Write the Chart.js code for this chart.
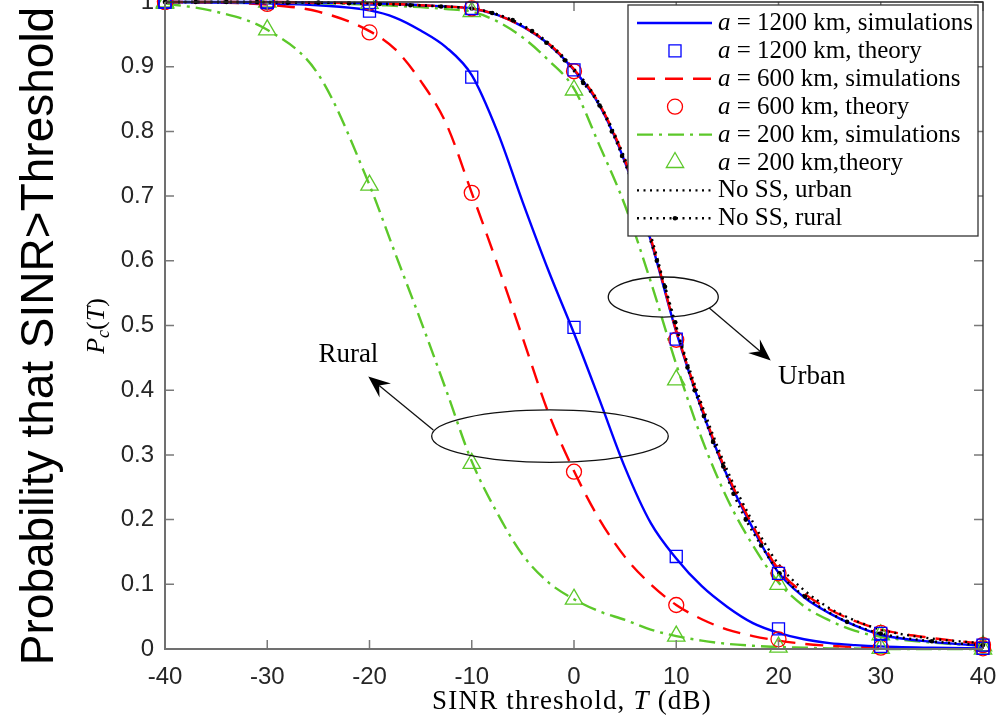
<!DOCTYPE html>
<html lang="en">
<head>
<meta charset="UTF-8">
<title>Coverage probability vs SINR threshold</title>
<script src="https://cdn.jsdelivr.net/npm/chart.js"></script>
<style>
  body { margin: 0; background: #ffffff; }
  #wrap { width: 996px; height: 724px; }
</style>
</head>
<body>
<div id="wrap"><canvas id="pcChart" width="996" height="724"></canvas></div>
<script>
// SINR thresholds (dB) of the simulated curves
const thresholds = [-40, -35, -30, -25, -20, -17.5, -15, -12.5, -10, -7.5, -5, -2.5, 0, 2.5, 5, 7.5, 10, 12.5, 15, 17.5, 20, 22.5, 25, 27.5, 30, 35, 40];

// simulated coverage probability, rural
const sim1200Rural = [1.000, 0.999, 0.998, 0.995, 0.987, 0.976, 0.956, 0.930, 0.887, 0.800, 0.690, 0.585, 0.488, 0.385, 0.280, 0.195, 0.140, 0.097, 0.065, 0.040, 0.025, 0.015, 0.009, 0.006, 0.004, 0.002, 0.001];
const sim600Rural  = [1.000, 0.999, 0.996, 0.985, 0.955, 0.927, 0.878, 0.812, 0.705, 0.595, 0.480, 0.365, 0.275, 0.200, 0.142, 0.100, 0.068, 0.046, 0.030, 0.020, 0.013, 0.008, 0.005, 0.003, 0.002, 0.001, 0.000];
const sim200Rural  = [0.998, 0.985, 0.957, 0.888, 0.717, 0.612, 0.508, 0.400, 0.290, 0.210, 0.145, 0.103, 0.077, 0.058, 0.045, 0.030, 0.020, 0.013, 0.008, 0.005, 0.003, 0.002, 0.001, 0.001, 0.000, 0.000, 0.000];

// simulated coverage probability, urban
const sim1200Urban = [1.000, 1.000, 1.000, 0.999, 0.998, 0.997, 0.995, 0.993, 0.990, 0.980, 0.962, 0.935, 0.895, 0.840, 0.752, 0.632, 0.490, 0.370, 0.267, 0.186, 0.118, 0.080, 0.055, 0.036, 0.022, 0.011, 0.005];
const sim600Urban  = [1.000, 1.000, 1.000, 0.999, 0.998, 0.997, 0.995, 0.993, 0.990, 0.980, 0.962, 0.936, 0.896, 0.842, 0.755, 0.635, 0.492, 0.373, 0.270, 0.190, 0.123, 0.086, 0.061, 0.043, 0.030, 0.017, 0.008];
const sim200Urban  = [1.000, 1.000, 0.999, 0.998, 0.996, 0.994, 0.992, 0.989, 0.985, 0.970, 0.945, 0.910, 0.866, 0.778, 0.685, 0.568, 0.440, 0.325, 0.232, 0.160, 0.103, 0.066, 0.044, 0.028, 0.019, 0.010, 0.005];

// no spectrum sharing baselines
const noSSUrban = [1.000, 1.000, 1.000, 0.999, 0.998, 0.997, 0.995, 0.993, 0.990, 0.981, 0.963, 0.937, 0.897, 0.843, 0.757, 0.640, 0.497, 0.378, 0.276, 0.196, 0.131, 0.091, 0.063, 0.044, 0.030, 0.016, 0.009];
const noSSRuralX = [-40, -37, -34, -31, -28, -25, -22, -19, -16, -13, -10, -8, -6, -4.1, -2.7, -0.9, 0.9, 2.5, 3.7, 4.7, 5.8, 6.9, 8.1, 8.9, 9.9, 10.5, 11.1, 11.8, 12.7, 13.6, 14.6, 15.6, 16.8, 18.3, 20.1, 22.6, 26.7, 30, 35, 40];
const noSSRural  = [1.000, 1.000, 1.000, 1.000, 0.999, 0.999, 0.998, 0.997, 0.995, 0.993, 0.990, 0.983, 0.972, 0.955, 0.937, 0.910, 0.875, 0.840, 0.800, 0.762, 0.715, 0.660, 0.600, 0.560, 0.505, 0.470, 0.435, 0.400, 0.360, 0.320, 0.282, 0.240, 0.200, 0.160, 0.117, 0.081, 0.042, 0.024, 0.012, 0.006];

// analytical results
const theoryX = [-40, -30, -20, -10, 0, 10, 20, 30, 40];
const th1200Rural = [1.000, 0.999, 0.986, 0.884, 0.497, 0.143, 0.031, 0.004, 0.001];
const th1200Urban = [1.000, 1.000, 0.999, 0.990, 0.895, 0.479, 0.117, 0.024, 0.006];
const th600Rural  = [1.000, 0.997, 0.953, 0.705, 0.274, 0.068, 0.015, 0.002, 0.001];
const th600Urban  = [1.000, 1.000, 0.999, 0.990, 0.893, 0.478, 0.117, 0.025, 0.006];
const th200Rural  = [0.998, 0.957, 0.717, 0.287, 0.077, 0.020, 0.003, 0.001, 0.000];
const th200Urban  = [1.000, 1.000, 0.998, 0.985, 0.864, 0.416, 0.100, 0.022, 0.005];

// axis ticks
const xTicks = [-40, -30, -20, -10, 0, 10, 20, 30, 40];
const xTickLabels = ['-40', '-30', '-20', '-10', '0', '10', '20', '30', '40'];
const yTicks = [0, 0.1, 0.2, 0.3, 0.4, 0.5, 0.6, 0.7, 0.8, 0.9, 1];
const yTickLabels = ['0', '0.1', '0.2', '0.3', '0.4', '0.5', '0.6', '0.7', '0.8', '0.9', '1'];

// callouts, in data units
const ellipses = [
  { x: 8.73, y: 0.544, rx: 5.38, ry: 0.031 },
  { x: -2.35, y: 0.329, rx: 11.57, ry: 0.0405 }
];
const arrows = [
  { x0: 13.23, y0: 0.527, x1: 19.24, y1: 0.446 },
  { x0: -13.76, y0: 0.3385, x1: -20.12, y1: 0.421 }
];
const notes = [
  { text: 'Urban', x: 19.95, y: 0.41 },
  { text: 'Rural', x: -25.0, y: 0.444 }
];

const serif = "'Liberation Serif', 'Times New Roman', serif";
const sans = "'Liberation Sans', Arial, sans-serif";
const BLUE = '#0000ff', RED = '#ff0000', GREEN = '#5cc82a', BLACK = '#000000';
const DASH = [18, 10], DASHDOT = [16, 6, 3, 6], DOT = [2, 4.5];

function pts(xs, ys) {
  return xs.map((x, i) => ({ x: x, y: ys[i] }));
}

function simLine(label, xs, ys, color, dash, order) {
  return {
    label: label, data: pts(xs, ys), borderColor: color, borderWidth: 2.4, borderDash: dash,
    pointRadius: 0, fill: false, cubicInterpolationMode: 'monotone', clip: false, order: order
  };
}

function theory(label, rural, urban, color, style, radius) {
  return {
    label: label, data: pts(theoryX, rural).concat(pts(theoryX, urban)), showLine: false,
    borderColor: color, backgroundColor: 'rgba(0,0,0,0)', pointStyle: style, pointRadius: radius,
    pointBorderWidth: 1.3, pointBorderColor: color, pointBackgroundColor: 'rgba(0,0,0,0)',
    clip: false, order: 0
  };
}

const datasets = [
  simLine('a = 1200 km, simulations', thresholds, sim1200Rural, BLUE, [], 5),   // 0
  theory('a = 1200 km, theory', th1200Rural, th1200Urban, BLUE, 'rect', 8.5),     // 1
  simLine('a = 600 km, simulations', thresholds, sim600Rural, RED, DASH, 5),      // 2
  theory('a = 600 km, theory', th600Rural, th600Urban, RED, 'circle', 7.5),       // 3
  simLine('a = 200 km, simulations', thresholds, sim200Rural, GREEN, DASHDOT, 5), // 4
  theory('a = 200 km,theory', th200Rural, th200Urban, GREEN, 'triangle', 10),    // 5
  simLine('No SS, urban', thresholds, noSSUrban, BLACK, DOT, 1),                  // 6
  Object.assign(simLine('No SS, rural', noSSRuralX, noSSRural, BLACK, DOT, 1), {  // 7
    pointRadius: 2.3, pointStyle: 'circle', pointBackgroundColor: BLACK, pointBorderWidth: 0
  }),
  simLine('urban 1200', thresholds, sim1200Urban, BLUE, [], 3),
  simLine('urban 600', thresholds, sim600Urban, RED, DASH, 2),
  simLine('urban 200', thresholds, sim200Urban, GREEN, DASHDOT, 4)
];

// legend rows: italic pieces flagged with 1
const legendRows = [
  { ds: 0, parts: [['a', 1], [' = 1200 km, simulations', 0]] },
  { ds: 1, parts: [['a', 1], [' = 1200 km, theory', 0]] },
  { ds: 2, parts: [['a', 1], [' = 600 km, simulations', 0]] },
  { ds: 3, parts: [['a', 1], [' = 600 km, theory', 0]] },
  { ds: 4, parts: [['a', 1], [' = 200 km, simulations', 0]] },
  { ds: 5, parts: [['a', 1], [' = 200 km,theory', 0]] },
  { ds: 6, parts: [['No SS, urban', 0]] },
  { ds: 7, parts: [['No SS, rural', 0]] }
];

function drawRich(ctx, parts, x, y, size) {
  let cx = x;
  parts.forEach(p => {
    ctx.font = (p[1] ? 'italic ' : '') + size + 'px ' + serif;
    ctx.fillText(p[0], cx, y);
    cx += ctx.measureText(p[0]).width;
  });
  return cx;
}

function marker(ctx, style, x, y, r, color, lw) {
  ctx.save();
  ctx.strokeStyle = color;
  ctx.lineWidth = lw;
  ctx.setLineDash([]);
  ctx.beginPath();
  if (style === 'rect') {
    const s = r * Math.SQRT1_2;
    ctx.rect(x - s, y - s, 2 * s, 2 * s);
  } else if (style === 'circle') {
    ctx.arc(x, y, r, 0, Math.PI * 2);
  } else {
    ctx.moveTo(x, y - r);
    ctx.lineTo(x + r * 0.866, y + r * 0.5);
    ctx.lineTo(x - r * 0.866, y + r * 0.5);
    ctx.closePath();
  }
  ctx.stroke();
  ctx.restore();
}

// MATLAB-like box with inward ticks on all four sides
const boxAxes = {
  id: 'boxAxes',
  afterDatasetsDraw(chart) {
    const { ctx, chartArea: a, scales } = chart;
    const t = 9;
    ctx.save();
    ctx.strokeStyle = '#7a7a7a';
    ctx.lineWidth = 1.5;
    ctx.beginPath();
    xTicks.forEach(v => {
      const px = scales.x.getPixelForValue(v);
      ctx.moveTo(px, a.bottom); ctx.lineTo(px, a.bottom - t);
      ctx.moveTo(px, a.top); ctx.lineTo(px, a.top + t);
    });
    yTicks.forEach(v => {
      const py = scales.y.getPixelForValue(v);
      ctx.moveTo(a.left, py); ctx.lineTo(a.left + t, py);
      ctx.moveTo(a.right, py); ctx.lineTo(a.right - t, py);
    });
    ctx.stroke();
    ctx.strokeStyle = '#2a2a2a';
    ctx.lineWidth = 1.3;
    ctx.beginPath();
    ctx.moveTo(a.left, a.top); ctx.lineTo(a.right, a.top); ctx.lineTo(a.right, a.bottom);
    ctx.stroke();
    ctx.strokeStyle = '#707070';
    ctx.lineWidth = 2;
    ctx.beginPath();
    ctx.moveTo(a.left, a.top); ctx.lineTo(a.left, a.bottom); ctx.lineTo(a.right, a.bottom);
    ctx.stroke();
    ctx.restore();
  }
};

// ellipses, arrows and their captions
const callouts = {
  id: 'callouts',
  afterDatasetsDraw(chart) {
    const { ctx, scales } = chart;
    const X = v => scales.x.getPixelForValue(v);
    const Y = v => scales.y.getPixelForValue(v);
    ctx.save();
    ctx.strokeStyle = '#111';
    ctx.fillStyle = '#000';
    ctx.lineWidth = 1.3;
    ctx.setLineDash([]);
    ellipses.forEach(e => {
      const rx = X(e.x + e.rx) - X(e.x);
      const ry = Y(e.y) - Y(e.y + e.ry);
      ctx.beginPath();
      ctx.ellipse(X(e.x), Y(e.y), rx, ry, 0, 0, Math.PI * 2);
      ctx.stroke();
    });
    arrows.forEach(ar => {
      const x0 = X(ar.x0), y0 = Y(ar.y0), x1 = X(ar.x1), y1 = Y(ar.y1);
      const len = Math.hypot(x1 - x0, y1 - y0);
      const ux = (x1 - x0) / len, uy = (y1 - y0) / len;
      const nx = -uy, ny = ux;
      const L = 22, W = 9, N = 8;
      ctx.beginPath();
      ctx.moveTo(x0, y0);
      ctx.lineTo(x1 - ux * (L - N), y1 - uy * (L - N));
      ctx.stroke();
      ctx.beginPath();
      ctx.moveTo(x1, y1);
      ctx.lineTo(x1 - ux * L + nx * W, y1 - uy * L + ny * W);
      ctx.lineTo(x1 - ux * (L - N), y1 - uy * (L - N));
      ctx.lineTo(x1 - ux * L - nx * W, y1 - uy * L - ny * W);
      ctx.closePath();
      ctx.fill();
    });
    ctx.font = '27px ' + serif;
    ctx.textBaseline = 'alphabetic';
    notes.forEach(n => ctx.fillText(n.text, X(n.x), Y(n.y)));
    ctx.restore();
  }
};

// boxed legend in the upper right of the plot
const boxLegend = {
  id: 'boxLegend',
  afterDraw(chart) {
    const { ctx, chartArea: a } = chart;
    const w = 350, h = 231, x0 = a.right - 355, y0 = a.top + 3;
    ctx.save();
    ctx.fillStyle = '#ffffff';
    ctx.fillRect(x0, y0, w, h);
    ctx.strokeStyle = '#333';
    ctx.lineWidth = 1.3;
    ctx.strokeRect(x0, y0, w, h);
    legendRows.forEach((row, i) => {
      const ds = chart.data.datasets[row.ds];
      const y = y0 + 18 + i * 27.9;
      if (ds.showLine === false) {
        marker(ctx, ds.pointStyle, x0 + 47, y, ds.pointRadius, ds.borderColor, ds.pointBorderWidth);
      } else {
        ctx.strokeStyle = ds.borderColor;
        ctx.lineWidth = ds.borderWidth;
        ctx.setLineDash(ds.borderDash);
        ctx.beginPath();
        ctx.moveTo(x0 + 9, y);
        ctx.lineTo(x0 + 84, y);
        ctx.stroke();
        ctx.setLineDash([]);
        if (ds.pointRadius > 0) {
          ctx.fillStyle = ds.pointBackgroundColor;
          ctx.beginPath();
          ctx.arc(x0 + 47, y, ds.pointRadius, 0, Math.PI * 2);
          ctx.fill();
        }
      }
      ctx.fillStyle = '#000';
      ctx.textBaseline = 'alphabetic';
      drawRich(ctx, row.parts, x0 + 90, y + 7, 25);
    });
    ctx.restore();
  }
};

// axis titles
const titles = {
  id: 'titles',
  afterDraw(chart) {
    const { ctx, chartArea: a } = chart;
    ctx.save();
    ctx.fillStyle = '#000';
    ctx.textBaseline = 'alphabetic';

    // outer y title
    ctx.save();
    ctx.translate(53, 336);
    ctx.rotate(-Math.PI / 2);
    ctx.font = '46px ' + sans;
    ctx.textAlign = 'center';
    ctx.fillText('Probability that SINR>Threshold', 0, 0);
    ctx.restore();

    // inner y title P_c(T)
    ctx.save();
    ctx.translate(104, 326);
    ctx.rotate(-Math.PI / 2);
    const parts = [['P', 1, 26, 0], ['c', 1, 18, 5], ['(', 0, 26, 0], ['T', 1, 26, 0], [')', 0, 26, 0]];
    let total = 0;
    parts.forEach(p => {
      ctx.font = (p[1] ? 'italic ' : '') + p[2] + 'px ' + serif;
      total += ctx.measureText(p[0]).width;
    });
    let cx = -total / 2;
    parts.forEach(p => {
      ctx.font = (p[1] ? 'italic ' : '') + p[2] + 'px ' + serif;
      ctx.fillText(p[0], cx, p[3]);
      cx += ctx.measureText(p[0]).width;
    });
    ctx.restore();

    // x title
    ctx.letterSpacing = '1.2px';
    const xParts = [['SINR threshold, ', 0], ['T', 1], [' (dB)', 0]];
    let wsum = 0;
    xParts.forEach(p => {
      ctx.font = (p[1] ? 'italic ' : '') + '27px ' + serif;
      wsum += ctx.measureText(p[0]).width;
    });
    drawRich(ctx, xParts, (a.left + a.right) / 2 - 2 - wsum / 2, 709, 27);
    ctx.restore();
  }
};

new Chart(document.getElementById('pcChart'), {
  type: 'line',
  data: { datasets: datasets },
  options: {
    responsive: false,
    animation: false,
    events: [],
    layout: { autoPadding: false, padding: { left: 0, right: 13, top: 2, bottom: 0 } },
    plugins: { legend: { display: false }, tooltip: { enabled: false } },
    scales: {
      x: {
        type: 'linear', min: -40, max: 40,
        grid: { display: false, drawTicks: false }, border: { display: false },
        afterBuildTicks: s => { s.ticks = xTicks.map(v => ({ value: v })); },
        ticks: {
          padding: 14, color: '#262626', font: { family: sans, size: 24 },
          maxRotation: 0, autoSkip: false,
          callback: (v, i) => xTickLabels[i]
        },
        afterFit: s => { s.height = 75; s.paddingLeft = 0; s.paddingRight = 0; }
      },
      y: {
        type: 'linear', min: 0, max: 1,
        grid: { display: false, drawTicks: false }, border: { display: false },
        afterBuildTicks: s => { s.ticks = yTicks.map(v => ({ value: v })); },
        ticks: {
          padding: 11, color: '#262626', font: { family: sans, size: 24 },
          autoSkip: false,
          callback: (v, i) => yTickLabels[i]
        },
        afterFit: s => { s.width = 165; s.paddingTop = 0; s.paddingBottom = 0; }
      }
    }
  },
  plugins: [boxAxes, callouts, boxLegend, titles]
});
</script>
</body>
</html>
